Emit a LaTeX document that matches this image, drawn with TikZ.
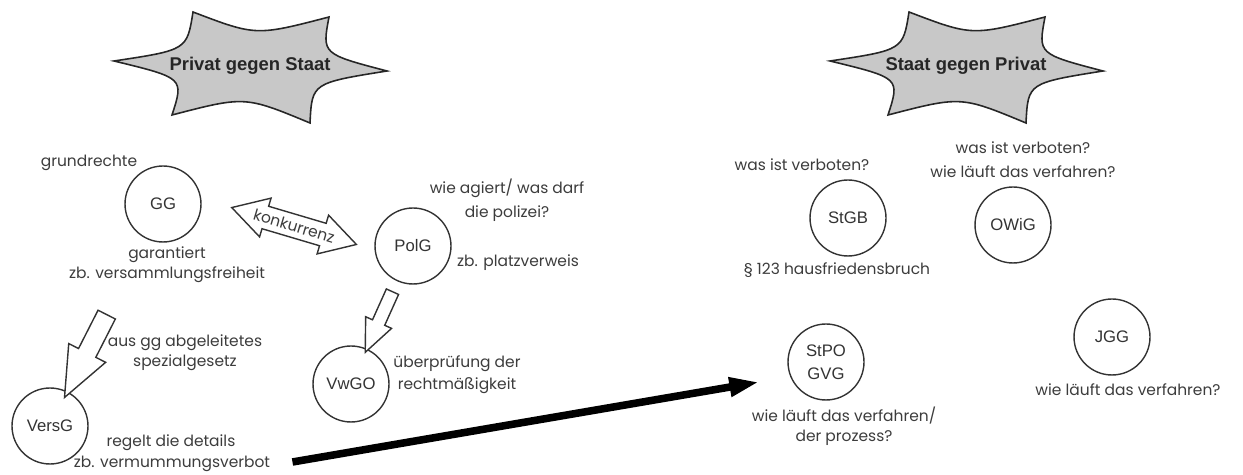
\documentclass[tikz,border=0pt]{standalone}
\usepackage{fontspec}
\setmainfont{Liberation Sans}
\newfontfamily\handfont{Poppins}
\usetikzlibrary{shapes.arrows,arrows.meta,calc}
\definecolor{ink}{HTML}{333333}
\definecolor{noteink}{HTML}{3C3C3C}
\definecolor{burstgray}{HTML}{C8C8C8}
\tikzset{
  spikecloud/.pic={
    \path[draw=black!85, fill=burstgray, line width=0.9pt]
      (-136,-7) .. controls (-63,-18) .. (-57,-56)
      .. controls (6,-32) .. (79,-51)
      .. controls (72,-14) .. (137,3)
      .. controls (62,15) .. (60,55)
      .. controls (-5,28) .. (-78,47)
      .. controls (-66,10) .. (-136,-7) -- cycle;
  }
}
\begin{document}
\begin{tikzpicture}[x=0.02cm,y=-0.02cm,
  law/.style={circle, draw=ink, line width=0.8pt, minimum size=1.52cm, inner sep=0pt,
    text=ink, font=\fontsize{9.5}{13}\selectfont, align=center},
  note/.style={text=noteink, font=\handfont\fontsize{8.8}{11.5}\selectfont, align=center, inner sep=0pt},
  bursttext/.style={font=\bfseries\fontsize{10.5}{12}\selectfont, text=black!85},
  blockarrow/.style={single arrow, draw=ink, fill=white, line width=0.8pt,
    inner xsep=0pt, minimum width=0pt},
  dblockarrow/.style={double arrow, draw=ink, fill=white, line width=0.8pt,
    inner xsep=0pt, minimum width=0pt},
]
\useasboundingbox (0,0) rectangle (1243,475);

% headline clouds
\pic at (250,68) {spikecloud};
\node[bursttext] (pgs) at (250,66) {Privat gegen Staat};
\pic at (966,68) {spikecloud};
\node[bursttext] (sgp) at (966,66) {Staat gegen Privat};

% laws
\node[law] (GG) at (163,204) {GG};
\node[law] (PolG) at (413,246) {PolG};
\node[law] (VwGO) at (351,384) {VwGO};
\node[law] (VersG) at (50,426) {VersG};
\node[law] (StGB) at (848,218) {StGB};
\node[law] (OWiG) at (1013,225) {OWiG};
\node[law] (StPO) at (826,362) {StPO\\GVG};
\node[law] (JGG) at (1112,337) {JGG};

% notes
\node[note] (grund) at (89,163) {grundrechte};
\node[note] (garant) at (167,265) {garantiert\\zb. versammlungsfreiheit};
\node[note] (polq) at (507,200) {wie agiert/ was darf\\[2pt]die polizei?};
\node[note] (platz) at (518,263) {zb. platzverweis};
\node[note] (spez) at (185,353) {aus gg abgeleitetes\\spezialgesetz};
\node[note] (pruef) at (457,375) {überprüfung der\\[1pt]rechtmäßigkeit};
\node[note] (regelt) at (171,443) {regelt die details};
\node[note] (vmv) at (172,464) {zb. vermummungsverbot};
\node[note] (stgbq) at (802,165) {was ist verboten?};
\node[note] (hfb) at (837,270) {§ 123 hausfriedensbruch};
\node[note] (owigq) at (1023,160) {was ist verboten?\\[2pt]wie läuft das verfahren?};
\node[note] (stpoq) at (844,426) {wie läuft das verfahren/\\der prozess?};
\node[note] (jggq) at (1128,390) {wie läuft das verfahren?};

% block arrows
\path (GG) -- (VersG) node[pos=0.70, sloped, allow upside down, blockarrow,
  minimum height=1.86cm, inner ysep=0.18cm, single arrow head extend=0.22cm,
  single arrow tip angle=45] (gv) {};
\path (PolG) -- (VwGO) node[pos=0.5, sloped, allow upside down, blockarrow,
  minimum height=1.33cm, inner ysep=0.12cm, single arrow head extend=0.15cm,
  single arrow tip angle=47] (pv) {};
\path (GG) -- (PolG) node[pos=0.535, rotate=-16.5, dblockarrow,
  minimum height=2.6cm, inner ysep=0.22cm, double arrow head extend=0.17cm,
  double arrow tip angle=60] (konk) {};
\node[note, rotate=-16.5] (konkt) at (konk.center) {konkurrenz};

% big arrow
\draw[line width=4.3pt, -{Triangle[length=0.6cm, width=0.36cm]}]
  ($(vmv.east)+(22,-2)$) -- ($(StPO.west)+(-28,20)$);
\end{tikzpicture}
\end{document}
